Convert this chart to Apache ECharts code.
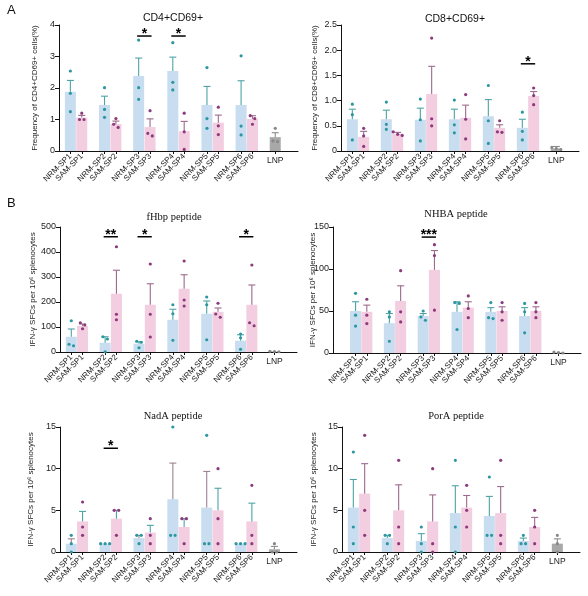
<!DOCTYPE html>
<html><head><meta charset="utf-8">
<script src="https://cdn.jsdelivr.net/npm/echarts@6.0.0/dist/echarts.min.js"></script>
<style>html,body{margin:0;padding:0;background:#fff}#c{width:588px;height:596px}</style>
</head><body><div id="c"></div>
<script>
// ---------- DATA ----------
const groups = ['NRM-SP1','SAM-SP1','NRM-SP2','SAM-SP2','NRM-SP3','SAM-SP3','NRM-SP4','SAM-SP4','NRM-SP5','SAM-SP5','NRM-SP6','SAM-SP6','LNP'];

const cd4Mean = [1.88,1.06,1.46,0.86,2.38,0.76,2.54,0.63,1.46,0.90,1.46,1.02,0.44];
const cd4Err  = [2.24,1.13,1.74,0.95,2.95,1.02,2.98,0.94,2.05,1.14,2.23,1.12,0.58];
const cd4Pts  = [[2.54,1.83,1.25],[1.20,1.00,1.00],[2.01,1.32,1.07],[1.03,0.85,0.75],[3.52,2.01,1.64],[1.28,0.56,0.48],[3.44,2.18,1.94],[1.20,0.61,0.05],[2.65,1.03,0.72],[1.39,0.80,0.52],[3.02,0.79,0.51],[1.12,1.03,0.85],[0.72,0.32,0.30]];
const cd4Sig  = [['NRM-SP3','SAM-SP3',3.65,'*'],['NRM-SP4','SAM-SP4',3.65,'*']];

const cd8Mean = [0.63,0.28,0.63,0.34,0.62,1.13,0.63,0.66,0.69,0.46,0.46,1.09,0.05];
const cd8Err  = [0.83,0.39,0.81,0.37,0.85,1.68,0.83,0.91,1.02,0.52,0.63,1.18,0.09];
const cd8Pts  = [[0.93,0.72,0.22],[0.45,0.30,0.09],[0.97,0.53,0.43],[0.38,0.33,0.31],[1.03,0.62,0.20],[2.24,0.64,0.50],[1.01,0.52,0.36],[1.12,0.63,0.24],[1.30,0.60,0.15],[0.60,0.38,0.37],[0.77,0.39,0.22],[1.25,1.10,0.92],[0.07,0.05,0.03]];
const cd8Sig  = [['NRM-SP6','SAM-SP6',1.73,'*']];

const fhbpMean = [61,104,37,233,33,189,129,253,153,161,45,189,2];
const fhbpErr  = [92,112,61,327,41,273,171,309,204,176,69,268,3];
const fhbpPts  = [[125,31,25],[117,108,93],[61,52,1],[421,151,129],[43,39,17],[352,151,60],[189,153,47],[364,208,184],[220,189,49],[195,152,139],[72,57,11],[348,117,105],[3,2,1]];
const fhbpSig  = [['NRM-SP2','SAM-SP2',461,'**'],['NRM-SP3','SAM-SP3',461,'*'],['NRM-SP6','SAM-SP6',461,'*']];

const nhbaMean = [50,49,35.5,62,44,99,49,54,49,50,44,50,0.5];
const nhbaErr  = [61,57,47,80,47,122,61,61,54,55,54,55,1];
const nhbaPts  = [[71,45,32],[64,45,35],[49,43,14],[98,49,37],[50,43,39],[129,116,51],[60,59,28],[68,53,42],[60,42,41],[60,49,39],[59,49,24],[60,49,42],[1,0.5,0]];
const nhbaSig  = [['NRM-SP3','SAM-SP3',138,'***']];

const nadaMean = [1,3.67,1,4,1.67,2.33,6.33,3,5.33,5,1,3.67,0.33];
const nadaErr  = [1.58,4.87,1,5,2,3.2,10.67,4,9.67,7.65,1,5.86,0.67];
const nadaPts  = [[2,1,0],[6,3,2],[1,1,1],[5,5,2],[2,2,1],[4,2,1],[15,2,2],[4,4,1],[14,1,1],[10,4,1],[1,1,1],[8,2,1],[1,0,0]];
const nadaSig  = [['NRM-SP2','SAM-SP2',12.45,'*']];

const poraMean = [5.33,7,1.67,5,1.33,3.67,4.67,5.33,4.33,4.67,1.33,3,1];
const poraErr  = [8.7,10.6,2,8.06,2.2,6.85,7.95,6.78,6.67,7.85,1.67,4.15,1.58];
const poraPts  = [[12,3,1],[14,5,2],[2,2,1],[11,3,1],[3,1,0],[10,1,0],[11,3,0],[8,5,3],[9,2,2],[11,2,1],[2,1,1],[5,3,1],[2,1,0]];
const poraSig  = [];

const titles = ['CD4+CD69+','CD8+CD69+','fHbp peptide','NHBA peptide','NadA peptide','PorA peptide'];
const yNames = ['Frequency of CD4+CD69+ cells(%)','Frequency of CD8+CD69+ cells(%)','IFN-γ SFCs per 10⁶ splenocytes','IFN-γ SFCs per 10⁶ splenocytes','IFN-γ SFCs per 10⁶ splenocytes','IFN-γ SFCs per 10⁶ splenocytes'];
const yMax = [4,2.5,500,150,15,15];
const yInterval = [1,0.5,100,50,5,5];

// ---------- LAYOUT / STYLE ----------
const layout = [
  {left:59, top:25, width:239, height:126, lead:1, nameGap:20, tx:173, ty:18, serif:false, swapErr:false},
  {left:341, top:25, width:238, height:126, lead:1, nameGap:22, tx:455, ty:19, serif:false, swapErr:false},
  {left:60, top:227, width:237, height:125, lead:1, nameGap:23, tx:174, ty:217, serif:true, swapErr:false},
  {left:333, top:227, width:248, height:126, lead:2, nameGap:16, tx:456, ty:214, serif:true, swapErr:false},
  {left:60, top:427, width:237, height:125, lead:1, nameGap:25, tx:173, ty:416, serif:true, swapErr:true},
  {left:342, top:427, width:238, height:125, lead:1, nameGap:24, tx:456, ty:416, serif:true, swapErr:false}
];
const panels = [
  {mean:cd4Mean, err:cd4Err, pts:cd4Pts, sig:cd4Sig},
  {mean:cd8Mean, err:cd8Err, pts:cd8Pts, sig:cd8Sig},
  {mean:fhbpMean, err:fhbpErr, pts:fhbpPts, sig:fhbpSig},
  {mean:nhbaMean, err:nhbaErr, pts:nhbaPts, sig:nhbaSig},
  {mean:nadaMean, err:nadaErr, pts:nadaPts, sig:nadaSig},
  {mean:poraMean, err:poraErr, pts:poraPts, sig:poraSig}
];
const barColor = {NRM:'#c8ddef', SAM:'#f3cde0', LNP:'#a8a8a8'};
const errColor = {NRM:'#4fa3a6', SAM:'#9c6a8c', LNP:'#8c8c8c'};
const errColorSwap = {NRM:'#9c8194', SAM:'#4fa3a6', LNP:'#8c8c8c'};
const ptColor  = {NRM:'#2c97a0', SAM:'#8c3a7c', LNP:'#888888'};
const kindOf = g => g.startsWith('NRM') ? 'NRM' : (g.startsWith('SAM') ? 'SAM' : 'LNP');
const AX = '#111', TXT = '#222';
const SANS = 'Liberation Sans, Arial, sans-serif';
const SERIF = 'Liberation Serif, Times New Roman, serif';

function buildCats(lead){
  const c = [];
  for (let i=0;i<lead;i++) c.push('_l'+i);
  for (let p=0;p<6;p++){ c.push(groups[2*p]); c.push(groups[2*p+1]); c.push('_g'+p); }
  c.push('LNP'); c.push('_t0'); c.push('_t1');
  return c;
}

const option = {animation:false, grid:[], xAxis:[], yAxis:[], series:[], graphic:[]};

panels.forEach((P,k)=>{
  const L = layout[k];
  const cats = buildCats(L.lead);
  const idx = g => cats.indexOf(g);
  const eCol = L.swapErr ? errColorSwap : errColor;
  option.grid.push({left:L.left, top:L.top, width:L.width, height:L.height});
  option.xAxis.push({type:'category', gridIndex:k, data:cats, boundaryGap:false,
    axisLine:{lineStyle:{color:AX, width:1}},
    axisTick:{length:3, interval:(i,v)=>v[0]!=='_', lineStyle:{color:AX}},
    axisLabel:{interval:0, rotate:45, fontSize:8, fontFamily:SANS, color:TXT, margin:4,
      formatter:v => (v[0]==='_'||v==='LNP') ? '' : v}});
  const dec = yInterval[k] < 1;
  option.yAxis.push({type:'value', gridIndex:k, min:0, max:yMax[k], interval:yInterval[k],
    splitLine:{show:false},
    axisLine:{show:true, lineStyle:{color:AX, width:1}},
    axisTick:{show:true, length:4, lineStyle:{color:AX}},
    axisLabel:{fontSize:9, fontFamily:SANS, color:TXT, margin:4,
      formatter:v => (dec && v!==0) ? v.toFixed(1) : String(v)},
    name:yNames[k], nameLocation:'middle', nameGap:L.nameGap, nameMoveOverlap:false,
    nameTextStyle:{fontSize:8, fontFamily:SANS, color:TXT}});

  // bars
  option.series.push({type:'bar', xAxisIndex:k, yAxisIndex:k, barWidth:11, z:2,
    data: groups.map((g,i)=>{
      const item = {value:[idx(g), P.mean[i]], itemStyle:{color:barColor[kindOf(g)]}};
      if (g==='LNP') item.label = {show:true, position:'bottom', distance:5, formatter:'LNP',
        fontSize:8.5, fontFamily:SANS, color:TXT};
      return item;
    })});

  // error bars (upper SEM)
  option.series.push({type:'custom', xAxisIndex:k, yAxisIndex:k, z:3,
    data: groups.map((g,i)=>[idx(g), P.mean[i], P.err[i]]),
    renderItem:(params, api)=>{
      const x = api.value(0), m = api.value(1), e = api.value(2);
      const p0 = api.coord([x,m]), p1 = api.coord([x,e]);
      if (Math.abs(p0[1]-p1[1]) < 0.8) return {type:'group', children:[]};
      const col = eCol[kindOf(groups[params.dataIndex])];
      const st = {stroke:col, lineWidth:1.1};
      return {type:'group', children:[
        {type:'line', shape:{x1:p0[0], y1:p0[1], x2:p1[0], y2:p1[1]}, style:st},
        {type:'line', shape:{x1:p1[0]-3.5, y1:p1[1], x2:p1[0]+3.5, y2:p1[1]}, style:st}
      ]};
    }});

  // individual points
  option.series.push({type:'custom', xAxisIndex:k, yAxisIndex:k, z:4,
    data: groups.map((g,i)=>[idx(g), Math.max(...P.pts[i])]),
    renderItem:(params, api)=>{
      const x = api.value(0);
      const vals = P.pts[params.dataIndex];
      const col = ptColor[kindOf(groups[params.dataIndex])];
      const cs = vals.map(v=>api.coord([x,v])).sort((a,b)=>a[1]-b[1]);
      const clusters = [];
      cs.forEach(c=>{
        const last = clusters[clusters.length-1];
        if (last && Math.abs(c[1]-last[last.length-1][1]) < 3.5) last.push(c); else clusters.push([c]);
      });
      const children = [];
      clusters.forEach(cl=>{
        cl.forEach((c,j)=>{
          const dx = (j-(cl.length-1)/2)*4.5;
          children.push({type:'circle', shape:{cx:c[0]+dx, cy:c[1], r:1.6}, style:{fill:col}});
        });
      });
      return {type:'group', children};
    }});

  // significance
  if (P.sig.length){
    option.series.push({type:'custom', xAxisIndex:k, yAxisIndex:k, z:5,
      data: P.sig.map(s=>[idx(s[0]), s[2], idx(s[1])]),
      renderItem:(params, api)=>{
        const a = api.coord([api.value(0), api.value(1)]);
        const b = api.coord([api.value(2), api.value(1)]);
        const lab = P.sig[params.dataIndex][3];
        return {type:'group', children:[
          {type:'line', shape:{x1:a[0]-1.5, y1:a[1], x2:b[0]+1.5, y2:a[1]}, style:{stroke:'#000', lineWidth:1.5}},
          {type:'text', x:(a[0]+b[0])/2, y:a[1]-2, style:{text:lab, align:'center', verticalAlign:'middle',
            font:'bold 14px '+SANS, fill:'#000'}}
        ]};
      }});
  }

  option.graphic.push({type:'text', x:L.tx, y:L.ty, style:{text:titles[k], align:'center', verticalAlign:'middle',
    font:'10.5px '+(L.serif?SERIF:SANS), fill:'#111'}});
});

option.graphic.push({type:'text', x:7, y:4, style:{text:'A', font:'13px '+SANS, fill:'#111'}});
option.graphic.push({type:'text', x:7, y:197, style:{text:'B', font:'13px '+SANS, fill:'#111'}});

const chart = echarts.init(document.getElementById('c'), null, {renderer:'canvas'});
chart.setOption(option);
</script>
</body></html>
